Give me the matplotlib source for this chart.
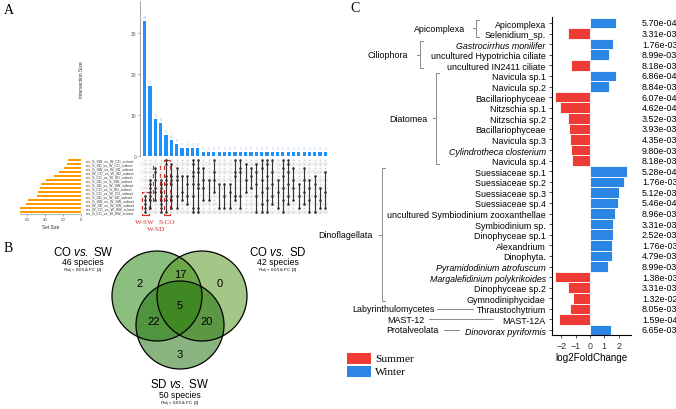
import matplotlib
matplotlib.use("Agg")
import matplotlib.pyplot as plt
from matplotlib.patches import Circle, Rectangle
import numpy as np

plt.rcParams['font.family'] = ['Liberation Sans', 'DejaVu Sans']
plt.rcParams['mathtext.fontset'] = 'custom'
plt.rcParams['mathtext.rm'] = 'Liberation Sans'
plt.rcParams['mathtext.it'] = 'Liberation Sans:italic'

W, H = 676, 410

# ---------------- Data: panel A (UpSet) ----------------
set_labels = ["res_S_SW_vs_W_CO_subset", "res_S_SD_vs_W_CO_subset", "res_S_SW_vs_W_SD_subset",
              "res_W_CO_vs_W_SD_subset", "res_S_CO_vs_W_SD_subset", "res_S_SD_vs_S_SW_subset",
              "res_S_SD_vs_W_SW_subset", "res_S_CO_vs_S_SD_subset", "res_S_CO_vs_W_CO_subset",
              "res_S_SD_vs_W_SD_subset", "res_S_SW_vs_W_SW_subset", "res_W_SD_vs_W_SW_subset",
              "res_W_CO_vs_W_SW_subset", "res_S_CO_vs_W_SW_subset"]
set_sizes = [14, 16, 19, 24, 30, 39, 44, 46, 48, 49, 59, 61, 71, 74]
inter_sizes = [33, 17, 9, 8, 5, 4, 3, 2, 2, 2, 2] + [1] * 24
inter_members = [
    [9, 10, 11, 12, 13], [5, 6, 7, 8, 9, 10, 12], [2, 3, 5, 7, 8, 10],
    [5, 6, 7, 8, 9, 10, 11, 12, 13], [0, 1, 4, 5, 6, 9, 10, 13], [1, 4, 5, 6, 9, 10, 12],
    [2, 4, 5, 9, 12], [4, 8, 10], [4, 6, 9, 11], [0, 1, 3, 4, 6, 9, 12, 13],
    [0, 2, 3, 6, 7, 12, 13], [2, 5, 7, 10], [5, 10], [0, 3, 5, 8], [6, 12],
    [6, 9, 12], [6, 8, 12], [0, 3, 4, 9, 10], [0, 2, 3, 9, 12], [1, 5, 8],
    [2, 4, 7], [1, 3, 6, 9, 13], [0, 2, 5, 8, 11, 13], [0, 1, 4, 7, 10, 13],
    [0, 3, 6, 9, 11], [5, 8, 12], [0, 2, 4, 7, 10, 13], [0, 1, 3, 6, 9, 11],
    [2, 5, 7, 10], [6, 9, 12], [2, 5, 8, 11], [5, 7, 10, 13], [4, 6, 9, 13],
    [7, 10, 12], [3, 8, 12]]

# ---------------- Data: panel B (Venn) ----------------
venn_titles = ["CO vs. SW", "CO vs. SD", "SD vs. SW"]
venn_species = ["46 species", "42 species", "50 species"]
venn_counts = {"CO_SW only": 2, "CO_SW&CO_SD": 17, "CO_SD only": 0, "all": 5,
               "CO_SW&SD_SW": 22, "CO_SD&SD_SW": 20, "SD_SW only": 3}

# ---------------- Data: panel C ----------------
taxa = ["Apicomplexa", "Selenidium_sp.", "Gastrocirrhus monilifer", "uncultured Hypotrichia ciliate",
        "uncultured IN2411 ciliate", "Navicula sp.1", "Navicula sp.2", "Bacillariophyceae",
        "Nitzschia sp.1", "Nitzschia sp.2", "Bacillariophyceae", "Navicula sp.3",
        "Cylindrotheca closterium", "Navicula sp.4", "Suessiaceae sp.1", "Suessiaceae sp.2",
        "Suessiaceae sp.3", "Suessiaceae sp.4", "uncultured Symbiodinium zooxanthellae",
        "Symbiodinium sp.", "Dinophyceae sp.1", "Alexandrium", "Dinophyta.",
        "Pyramidodinium atrofuscum", "Margalefidinium polykrikoides", "Dinophyceae sp.2",
        "Gymnodiniphycidae", "Thraustochytrium", "MAST-12A", "Dinovorax pyriformis"]
italic_taxa = ["Gastrocirrhus monilifer", "Cylindrotheca closterium", "Pyramidodinium atrofuscum",
               "Margalefidinium polykrikoides", "Dinovorax pyriformis"]
log2fc = [1.84, -1.54, 1.61, 1.31, -1.31, 1.79, 1.31, -2.47, -2.07, -1.52, -1.47, -1.38,
          -1.31, -1.24, 2.59, 2.35, 2.05, 1.96, 1.77, 1.61, 1.61, 1.56, 1.56, 1.28, -2.45,
          -1.52, -1.17, -1.38, -2.17, 1.45]
padj = ["5.70e-04", "3.31e-03", "1.76e-03", "8.99e-03", "8.18e-03", "6.86e-04", "8.84e-03",
        "6.07e-04", "4.62e-04", "3.52e-03", "3.93e-03", "4.35e-03", "9.80e-03", "8.18e-03",
        "5.28e-04", "1.76e-03", "5.12e-03", "5.46e-04", "8.96e-03", "3.31e-03", "2.52e-03",
        "1.76e-03", "4.79e-03", "8.99e-03", "1.38e-03", "3.31e-03", "1.32e-02", "8.05e-03",
        "1.59e-04", "6.65e-03"]
groups = [("Apicomplexa", 0, 1), ("Ciliophora", 2, 4), ("Diatomea", 5, 13),
          ("Dinoflagellata", 14, 26)]
single_groups = [("Labyrinthulomycetes", 27), ("MAST-12", 28), ("Protalveolata", 29)]
seasons = ["Summer", "Winter"]

RED = '#EE3B36'
BLUE = '#2B87E3'
FS_C = 6.4


def px_axes(fig, x0, y0, x1, y1, **kw):
    return fig.add_axes([x0 / W, 1 - y1 / H, (x1 - x0) / W, (y1 - y0) / H], **kw)


fig = plt.figure(figsize=(W / 100, H / 100), dpi=100)

# background axis in pixel coords
bg = px_axes(fig, 0, 0, W, H)
bg.set_xlim(0, W)
bg.set_ylim(H, 0)
bg.axis('off')

# ---------------- Panel A ----------------
ncol = len(inter_sizes)
nrow = len(set_labels)
xl = (-0.9, 34.5)
axb = px_axes(fig, 140, 2, 328, 157)
axb.bar(range(ncol), inter_sizes, width=0.6, color='#1E90FF')
for i, v in enumerate(inter_sizes):
    axb.text(i, v + 0.5, str(v), ha='center', va='bottom', fontsize=2.5, color='#7db9f0')
axb.set_xlim(*xl)
axb.set_ylim(0, 37.8)
axb.set_yticks([0, 10, 20, 30])
axb.tick_params(axis='y', labelsize=3.5, length=1.5, width=0.4, pad=1, colors='#555555')
axb.set_xticks([])
for s in ['top', 'right', 'bottom']:
    axb.spines[s].set_visible(False)
axb.spines['left'].set_color('#999999')
axb.spines['left'].set_linewidth(0.6)
axb.set_ylabel('Intersection Size', fontsize=3.5, labelpad=34, color='#333333')

axm = px_axes(fig, 140, 159, 328, 215)
axm.set_xlim(*xl)
axm.set_ylim(nrow - 0.5, -0.5)
axm.axis('off')
for r in range(nrow):
    if r % 2 == 1:
        axm.axhspan(r - 0.5, r + 0.5, color='#f2f2f2', zorder=0, lw=0)
gx, gy = np.meshgrid(np.arange(ncol), np.arange(nrow))
axm.scatter(gx.ravel(), gy.ravel(), s=2.2, color='#d6d6d6', zorder=1, lw=0)
for c, mem in enumerate(inter_members):
    axm.plot([c, c], [min(mem), max(mem)], color='#333333', lw=0.8, zorder=2)
    axm.scatter([c] * len(mem), mem, s=3.5, color='#333333', zorder=3, lw=0)
for r, lab in enumerate(set_labels):
    axm.text(-11.2, r, lab, fontsize=2.6, va='center', ha='left', color='#333333')

axs = px_axes(fig, 20, 159, 81, 215)
axs.barh(range(nrow), set_sizes, height=0.6, color='#FF9900')
axs.set_xlim(67.8, 0)
axs.set_ylim(nrow - 0.5, -0.5)
axs.set_yticks([])
axs.set_xticks([60, 40, 20, 0])
axs.tick_params(axis='x', labelsize=3.2, length=1.5, width=0.4, pad=1, colors='#555555')
for s in ['top', 'right', 'left']:
    axs.spines[s].set_visible(False)
axs.spines['bottom'].set_color('#999999')
axs.spines['bottom'].set_linewidth(0.5)
axs.set_xlabel('Set Size', fontsize=3.3, labelpad=1.5, color='#333333')

# red highlight boxes
for (x0, y0, x1, y1) in [(142, 193, 148.5, 215.5), (153, 165, 159.5, 204), (163.5, 161, 170, 215.5)]:
    bg.add_patch(Rectangle((x0, y0), x1 - x0, y1 - y0, fill=False, ec='#d62a2a', lw=0.9, zorder=5))
for txt, x, y in [("W-SW", 145, 223), ("S-CO", 167, 223), ("W-SD", 156, 229.5)]:
    bg.text(x, y, txt, fontsize=5.2, color='#d62a2a', ha='center', va='center',
            family='Liberation Serif')

# ---------------- Panel B (Venn) ----------------
circles = [((157, 297), 45, (0.106, 0.50, 0.0)),
           ((202, 297), 45, (0.294, 0.57, 0.07)),
           ((180, 326), 44, (0.082, 0.42, 0.0))]
for (cx, cy), r, col in circles:
    bg.add_patch(Circle((cx, cy), r, facecolor=col, alpha=0.5, lw=0, zorder=1))
for (cx, cy), r, col in circles:
    bg.add_patch(Circle((cx, cy), r, fill=False, ec='black', lw=0.9, zorder=2))
num_pos = {"CO_SW only": (140, 284), "CO_SW&CO_SD": (180, 275), "CO_SD only": (220, 284),
           "all": (180, 306), "CO_SW&SD_SW": (154, 322), "CO_SD&SD_SW": (207, 322),
           "SD_SW only": (180, 355)}
for k, v in venn_counts.items():
    x, y = num_pos[k]
    bg.text(x, y, str(v), fontsize=8, ha='center', va='center', zorder=3)
title_pos = [(83, 252), (278, 252), (180, 385)]
for t, sp, (x, y) in zip(venn_titles, venn_species, title_pos):
    a, b, c = t.split(' ')
    bg.text(x, y, a + r' $\it{' + b + r'}$ ' + c, fontsize=8.3, ha='center', va='center')
    bg.text(x, y + 11, sp, fontsize=6.2, ha='center', va='center')
    bg.text(x, y + 19, r'$\it{P}_{\rm adj}$ < 0.05 & FC |2|', fontsize=3.2, ha='center',
            va='center')

# ---------------- Panel C ----------------
axc = px_axes(fig, 552, 18, 631, 336)
n = len(taxa)
y = np.arange(n)
cols = [RED if v < 0 else BLUE for v in log2fc]
axc.barh(y, log2fc, height=1.0, color=cols, edgecolor='white', linewidth=0.6)
axc.set_xlim(-2.66, 2.87)
axc.set_ylim(n - 0.53, -0.57)
axc.set_yticks(y)
axc.set_yticklabels(taxa, fontsize=FS_C)
for lab in axc.get_yticklabels():
    if lab.get_text() in italic_taxa:
        lab.set_style('italic')
axc.set_xticks([-2, -1, 0, 1, 2])
axc.set_xticklabels(['\u22122', '\u22121', '0', '1', '2'])
axc.tick_params(axis='x', labelsize=FS_C, length=2.5, width=0.6, pad=1.5, colors='#333333')
axc.tick_params(axis='y', length=2.5, width=0.6, pad=2, colors='#333333')
for lab in axc.get_yticklabels():
    lab.set_color('black')
for s in ['top', 'right']:
    axc.spines[s].set_visible(False)
for s in ['left', 'bottom']:
    axc.spines[s].set_linewidth(0.8)
axc.set_xlabel('log2FoldChange', fontsize=7.1, labelpad=2)

row_y = lambda i: 24 + 10.586 * i
for i, p in enumerate(padj):
    bg.text(642, row_y(i), p, fontsize=FS_C, va='center', ha='left')

GR = '#8a8a8a'
bracket_x = {"Apicomplexa": (476, 465), "Ciliophora": (420, 408), "Diatomea": (436, 427),
             "Dinoflagellata": (382, 373)}
for name, r0, r1 in groups:
    bx, lx = bracket_x[name]
    y0 = row_y(r0) - 3
    y1 = row_y(r1) + 3
    bg.plot([bx + 3, bx, bx, bx + 3], [y0, y0, y1, y1], color=GR, lw=0.7)
    ym = (y0 + y1) / 2
    bg.plot([bx - 3, bx], [ym, ym], color=GR, lw=0.7)
    bg.text(lx, ym, name, fontsize=FS_C, ha='right', va='center')
single_pos = {"Labyrinthulomycetes": (435, 437, 473), "MAST-12": (424, 429, 493),
              "Protalveolata": (439, 444, 459)}
for name, r in single_groups:
    lx, x0, x1 = single_pos[name]
    bg.plot([x0, x1], [row_y(r), row_y(r)], color=GR, lw=0.7)
    bg.text(lx, row_y(r), name, fontsize=FS_C, ha='right', va='center')

# legend
for (lab, col, yy) in [(seasons[0], RED, 354), (seasons[1], BLUE, 367)]:
    bg.add_patch(Rectangle((347, yy), 24, 10.5, color=col, lw=0))
    bg.text(375, yy + 5.3, lab, fontsize=8.2, va='center', ha='left', family='Liberation Serif')

# panel letters
for lab, x, yy in [("A", 4, 10), ("B", 4, 249), ("C", 350, 9)]:
    bg.text(x, yy, lab, fontsize=10, va='center', ha='left', family='Liberation Serif')

fig.savefig('out.png', dpi=100)
